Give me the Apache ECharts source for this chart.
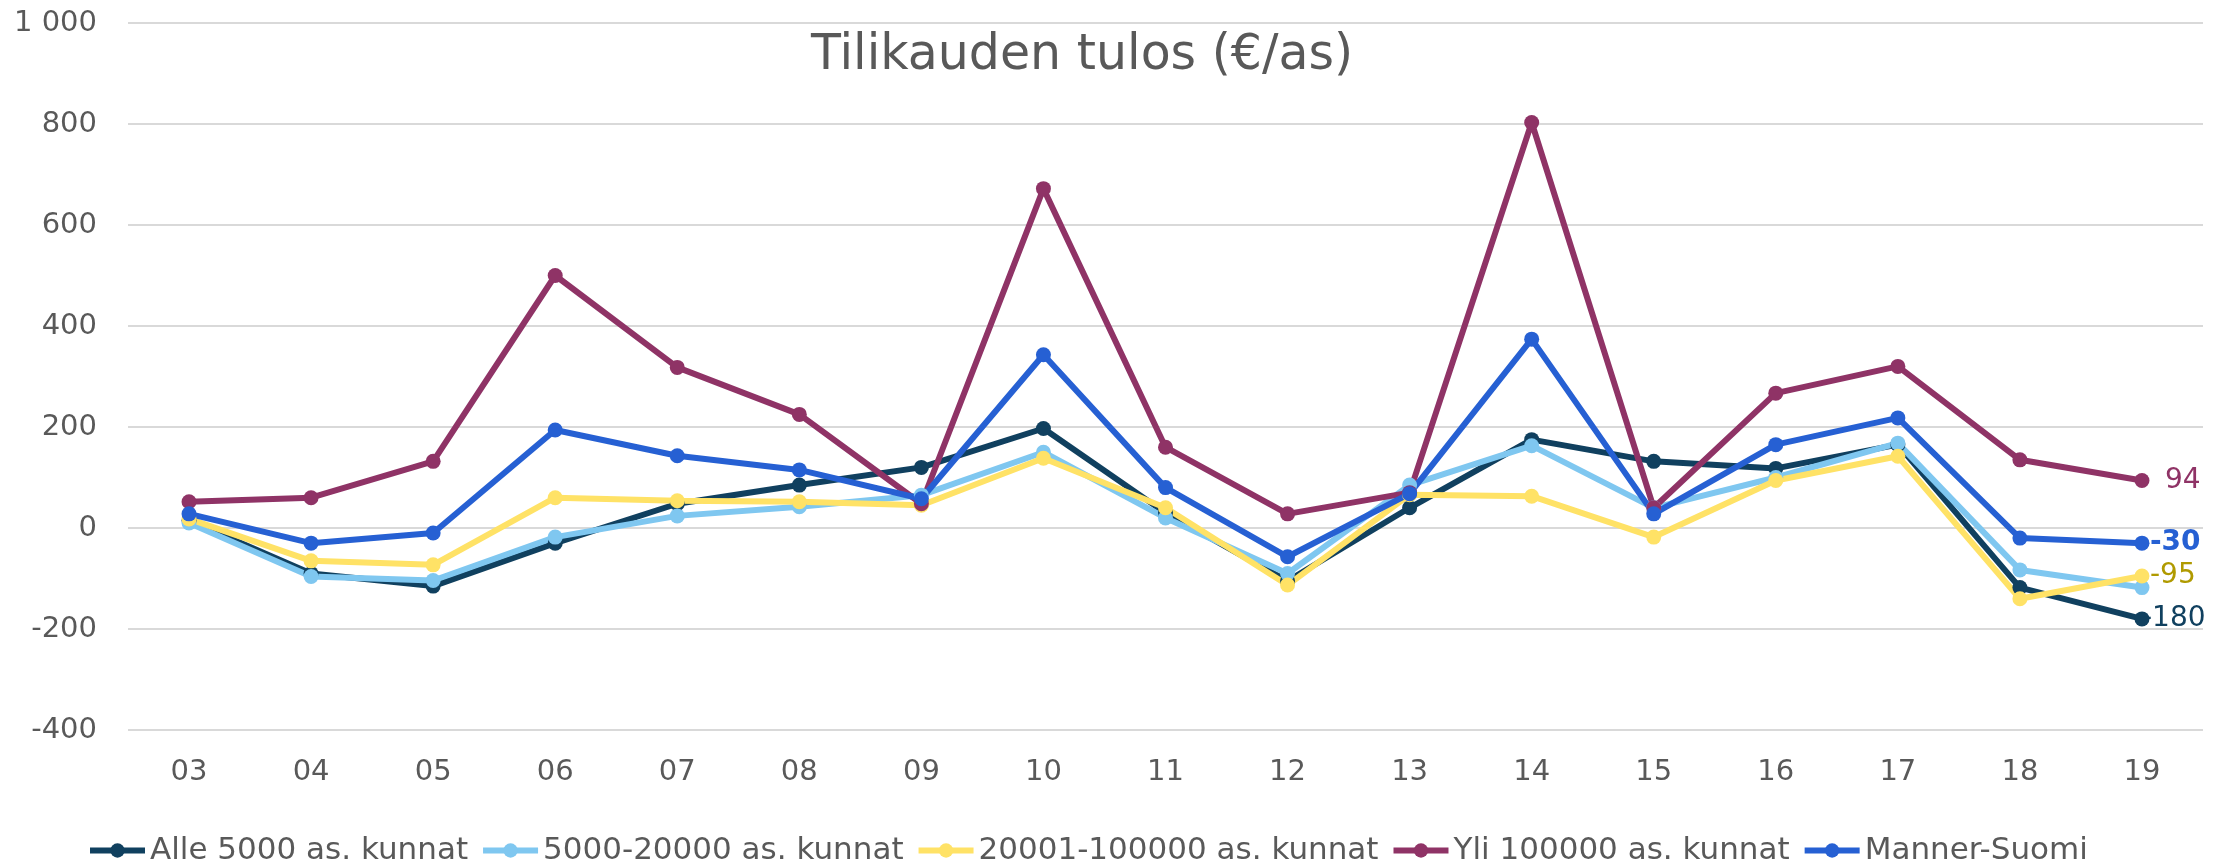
<!DOCTYPE html>
<html lang="fi">
<head>
  <meta charset="UTF-8">
  <title>Tilikauden tulos</title>
  <script src="https://cdn.jsdelivr.net/npm/echarts@6/dist/echarts.min.js"></script>
  <style>
    html, body { margin: 0; padding: 0; background: #fff; }
    #chart { width: 2228px; height: 861px; }
  </style>
</head>
<body>
<div id="chart"></div>
<script>
// vuodet (x-akseli)
var years = ['03','04','05','06','07','08','09','10','11','12','13','14','15','16','17','18','19'];

// sarjojen arvot, luettu kuvasta (€/as)
var alle5000   = [15, -90, -115, -30, 48, 85, 120, 197, 30, -105, 40, 175, 132, 118, 165, -118, -180];
var v5000_20000 = [10, -96, -104, -18, 24, 42, 65, 150, 20, -90, 85, 163, 40, 100, 168, -83, -118];
var v20001_100000 = [18, -65, -73, 60, 54, 52, 45, 138, 40, -113, 66, 63, -18, 94, 142, -140, -95];
var yli100000  = [52, 60, 132, 500, 318, 225, 48, 672, 160, 28, 70, 803, 40, 267, 320, 135, 94];
var mannerSuomi = [28, -30, -10, 194, 143, 115, 58, 343, 80, -57, 68, 374, 28, 165, 218, -20, -30];

var seriesNames = ['Alle 5000 as. kunnat', '5000-20000 as. kunnat', '20001-100000 as. kunnat', 'Yli 100000 as. kunnat', 'Manner-Suomi'];
var seriesColors = ['#10405f', '#7fc7f0', '#ffe266', '#8f3366', '#2660d3'];

var textColor = '#595959';
var font = 'DejaVu Sans';

function makeSeries(i, data, endLabel) {
  return {
    name: seriesNames[i],
    type: 'line',
    data: data,
    symbol: 'circle',
    symbolSize: 15,
    color: seriesColors[i],
    lineStyle: { width: 6, color: seriesColors[i] },
    itemStyle: { color: seriesColors[i] },
    endLabel: endLabel,
    emphasis: { disabled: true },
    animation: false
  };
}

function endLab(color, dist, bold) {
  return { show: true, formatter: '{c}', color: color, fontFamily: font, fontSize: 28,
           fontWeight: bold ? 'bold' : 'normal', distance: dist };
}

var option = {
  backgroundColor: '#fff',
  title: {
    text: 'Tilikauden tulos (€/as)',
    left: 806,
    top: 27,
    textStyle: { fontFamily: font, fontWeight: 'normal', fontSize: 49, color: textColor }
  },
  legend: {
    left: 82,
    top: 830,
    itemWidth: 55,
    itemHeight: 18,
    itemGap: 12,
    lineStyle: { width: 6 },
    textStyle: { fontFamily: font, fontSize: 31, color: textColor },
    data: seriesNames
  },
  grid: { left: 128, right: 25, top: 23, bottom: 131 },
  xAxis: {
    type: 'category',
    data: years,
    boundaryGap: true,
    axisLine: { show: false },
    axisTick: { show: false },
    axisLabel: { fontFamily: font, fontSize: 29, color: textColor, margin: 28 }
  },
  yAxis: {
    type: 'value',
    min: -400,
    max: 1000,
    interval: 200,
    axisLine: { show: false },
    axisTick: { show: false },
    splitLine: { lineStyle: { color: '#d9d9d9', width: 2 } },
    axisLabel: {
      fontFamily: font, fontSize: 29, color: textColor, margin: 31,
      formatter: function (v) {
        return Math.abs(v) >= 1000 ? String(v).replace(/(\d)(\d{3})$/, '$1 $2') : String(v);
      }
    }
  },
  series: [
    makeSeries(0, alle5000, endLab('#10405f', 0)),
    makeSeries(1, v5000_20000, { show: false }),
    makeSeries(2, v20001_100000, endLab('#b09a00', 8)),
    makeSeries(3, yli100000, endLab('#8f3366', 23)),
    makeSeries(4, mannerSuomi, endLab('#2660d3', 8, true))
  ]
};

var chart = echarts.init(document.getElementById('chart'));
chart.setOption(option);
</script>
</body>
</html>
